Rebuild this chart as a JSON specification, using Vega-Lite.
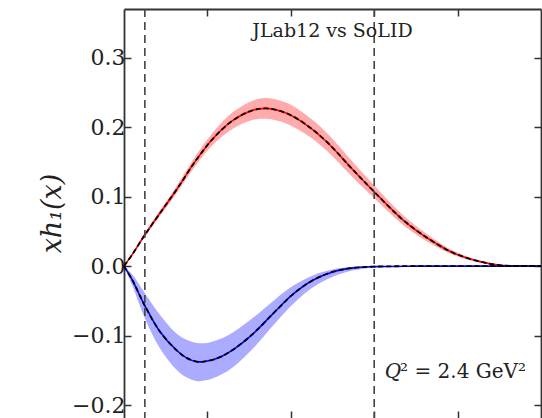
{
  "$schema": "https://vega.github.io/schema/vega-lite/v6.json",
  "width": 417,
  "height": 409,
  "autosize": {"type": "none"},
  "padding": {"left": 124, "top": 9, "right": 1, "bottom": 0},
  "background": "white",
  "config": {
    "view": {"stroke": null},
    "font": "DejaVu Serif",
    "axis": {
      "domainColor": "#333333",
      "domainWidth": 1.8,
      "tickColor": "#333333",
      "tickWidth": 1.5,
      "tickSize": -7,
      "grid": false,
      "labelFont": "DejaVu Serif",
      "labelFontSize": 22,
      "labelColor": "#222222"
    }
  },
  "datasets": {
    "curves": [
      {"flavor": "u", "x": 0.0, "mid": 0.0, "lo": 0.0, "hi": 0.0},
      {"flavor": "u", "x": 0.02, "mid": 0.017, "lo": 0.0155, "hi": 0.0185},
      {"flavor": "u", "x": 0.05, "mid": 0.045, "lo": 0.042, "hi": 0.048},
      {"flavor": "u", "x": 0.086, "mid": 0.076, "lo": 0.072, "hi": 0.08},
      {"flavor": "u", "x": 0.126, "mid": 0.11, "lo": 0.105, "hi": 0.115},
      {"flavor": "u", "x": 0.17, "mid": 0.15, "lo": 0.143, "hi": 0.157},
      {"flavor": "u", "x": 0.214, "mid": 0.184, "lo": 0.175, "hi": 0.193},
      {"flavor": "u", "x": 0.262, "mid": 0.21, "lo": 0.198, "hi": 0.222},
      {"flavor": "u", "x": 0.31, "mid": 0.2245, "lo": 0.2105, "hi": 0.2385},
      {"flavor": "u", "x": 0.342, "mid": 0.227, "lo": 0.212, "hi": 0.242},
      {"flavor": "u", "x": 0.39, "mid": 0.22, "lo": 0.205, "hi": 0.235},
      {"flavor": "u", "x": 0.438, "mid": 0.203, "lo": 0.189, "hi": 0.217},
      {"flavor": "u", "x": 0.486, "mid": 0.179, "lo": 0.166, "hi": 0.192},
      {"flavor": "u", "x": 0.55, "mid": 0.138, "lo": 0.127, "hi": 0.149},
      {"flavor": "u", "x": 0.6, "mid": 0.107, "lo": 0.098, "hi": 0.116},
      {"flavor": "u", "x": 0.67, "mid": 0.066, "lo": 0.059, "hi": 0.073},
      {"flavor": "u", "x": 0.734, "mid": 0.038, "lo": 0.033, "hi": 0.043},
      {"flavor": "u", "x": 0.79, "mid": 0.019, "lo": 0.016, "hi": 0.022},
      {"flavor": "u", "x": 0.854, "mid": 0.0065, "lo": 0.005, "hi": 0.008},
      {"flavor": "u", "x": 0.9, "mid": 0.0015, "lo": 0.0007, "hi": 0.0023},
      {"flavor": "u", "x": 0.95, "mid": 0.0002, "lo": 0.0001, "hi": 0.0003},
      {"flavor": "u", "x": 1.0, "mid": 0.0, "lo": 0.0, "hi": 0.0},
      {"flavor": "d", "x": 0.0, "mid": 0.0, "lo": 0.0, "hi": 0.0},
      {"flavor": "d", "x": 0.02, "mid": -0.02, "lo": -0.028, "hi": -0.012},
      {"flavor": "d", "x": 0.05, "mid": -0.057, "lo": -0.075, "hi": -0.039},
      {"flavor": "d", "x": 0.086, "mid": -0.094, "lo": -0.118, "hi": -0.07},
      {"flavor": "d", "x": 0.126, "mid": -0.121, "lo": -0.149, "hi": -0.097},
      {"flavor": "d", "x": 0.15, "mid": -0.132, "lo": -0.16, "hi": -0.106},
      {"flavor": "d", "x": 0.175, "mid": -0.1375, "lo": -0.1655, "hi": -0.1105},
      {"flavor": "d", "x": 0.2, "mid": -0.1365, "lo": -0.164, "hi": -0.1105},
      {"flavor": "d", "x": 0.23, "mid": -0.131, "lo": -0.157, "hi": -0.105},
      {"flavor": "d", "x": 0.262, "mid": -0.12, "lo": -0.145, "hi": -0.095},
      {"flavor": "d", "x": 0.31, "mid": -0.097, "lo": -0.118, "hi": -0.074},
      {"flavor": "d", "x": 0.358, "mid": -0.068, "lo": -0.085, "hi": -0.05},
      {"flavor": "d", "x": 0.406, "mid": -0.04, "lo": -0.054, "hi": -0.028},
      {"flavor": "d", "x": 0.454, "mid": -0.02, "lo": -0.03, "hi": -0.013},
      {"flavor": "d", "x": 0.502, "mid": -0.008, "lo": -0.015, "hi": -0.0045},
      {"flavor": "d", "x": 0.55, "mid": -0.0025, "lo": -0.006, "hi": -0.001},
      {"flavor": "d", "x": 0.6, "mid": -0.0007, "lo": -0.0018, "hi": -0.0002},
      {"flavor": "d", "x": 0.7, "mid": 0.0, "lo": -0.0002, "hi": 0.0},
      {"flavor": "d", "x": 0.85, "mid": 0.0, "lo": 0.0, "hi": 0.0},
      {"flavor": "d", "x": 1.0, "mid": 0.0, "lo": 0.0, "hi": 0.0}
    ],
    "cuts": [{"x": 0.05}, {"x": 0.6}]
  },
  "layer": [
    {
      "data": {"name": "curves"},
      "mark": {"type": "area", "opacity": 0.33, "interpolate": "catmull-rom"},
      "encoding": {
        "x": {
          "field": "x", "type": "quantitative",
          "scale": {"domain": [0, 1], "nice": false, "zero": false},
          "axis": {"orient": "bottom", "values": [0.2, 0.4, 0.6, 0.8], "labels": false, "domain": false, "title": null}
        },
        "y": {
          "field": "lo", "type": "quantitative",
          "scale": {"domain": [-0.2185, 0.37], "nice": false, "zero": false},
          "axis": {
            "orient": "left", "values": [-0.2, -0.1, 0, 0.1, 0.2, 0.3], "format": ".1f",
            "labelPadding": 6,
            "title": "xh₁(x)", "titleFont": "DejaVu Serif", "titleFontStyle": "italic",
            "titleFontWeight": "normal", "titleFontSize": 27, "titleColor": "#222222",
            "titleAngle": -90, "titleAlign": "center", "titleBaseline": "middle",
            "titleX": -72, "titleY": 204
          }
        },
        "y2": {"field": "hi"},
        "color": {
          "field": "flavor", "type": "nominal",
          "scale": {"domain": ["u", "d"], "range": ["#ff0000", "#0000ff"]},
          "legend": null
        }
      }
    },
    {
      "data": {"name": "curves"},
      "mark": {"type": "line", "strokeWidth": 1.6, "interpolate": "catmull-rom"},
      "encoding": {
        "x": {
          "field": "x", "type": "quantitative",
          "scale": {"domain": [0, 1], "nice": false, "zero": false},
          "axis": {"orient": "top", "values": [0.2, 0.4, 0.6, 0.8], "labels": false, "title": null}
        },
        "y": {
          "field": "mid", "type": "quantitative",
          "scale": {"domain": [-0.2185, 0.37], "nice": false, "zero": false},
          "axis": {"orient": "right", "values": [-0.2, -0.1, 0, 0.1, 0.2, 0.3], "labels": false, "title": null}
        },
        "color": {
          "field": "flavor", "type": "nominal",
          "scale": {"domain": ["u", "d"], "range": ["#ff0000", "#0000ff"]},
          "legend": null
        }
      }
    },
    {
      "data": {"name": "curves"},
      "mark": {"type": "line", "color": "#000000", "strokeWidth": 1.8, "strokeDash": [5, 3], "interpolate": "catmull-rom"},
      "encoding": {
        "x": {"field": "x", "type": "quantitative", "axis": null},
        "y": {"field": "mid", "type": "quantitative", "axis": null},
        "detail": {"field": "flavor", "type": "nominal"}
      }
    },
    {
      "data": {"name": "cuts"},
      "mark": {"type": "rule", "color": "#444444", "strokeWidth": 1.6, "strokeDash": [8, 5]},
      "encoding": {
        "x": {"field": "x", "type": "quantitative", "axis": null}
      }
    },
    {
      "data": {"values": [{"label": "JLab12 vs SoLID"}]},
      "mark": {"type": "text", "font": "DejaVu Serif", "fontSize": 19, "color": "#222222", "align": "center", "baseline": "alphabetic"},
      "encoding": {
        "x": {"datum": 0.5, "type": "quantitative", "axis": null},
        "y": {"datum": 0.33, "type": "quantitative", "axis": null},
        "text": {"field": "label"}
      }
    },
    {
      "data": {"values": [{"label": "Q"}]},
      "mark": {"type": "text", "font": "DejaVu Serif", "fontStyle": "italic", "fontSize": 20, "color": "#222222", "align": "right", "baseline": "alphabetic", "dx": 1},
      "encoding": {
        "x": {"datum": 0.662, "type": "quantitative", "axis": null},
        "y": {"datum": -0.161, "type": "quantitative", "axis": null},
        "text": {"field": "label"}
      }
    },
    {
      "data": {"values": [{"label": "² = 2.4 GeV²"}]},
      "mark": {"type": "text", "font": "DejaVu Serif", "fontSize": 20, "color": "#222222", "align": "left", "baseline": "alphabetic"},
      "encoding": {
        "x": {"datum": 0.662, "type": "quantitative", "axis": null},
        "y": {"datum": -0.161, "type": "quantitative", "axis": null},
        "text": {"field": "label"}
      }
    }
  ],
  "resolve": {"axis": {"x": "independent", "y": "independent"}}
}
